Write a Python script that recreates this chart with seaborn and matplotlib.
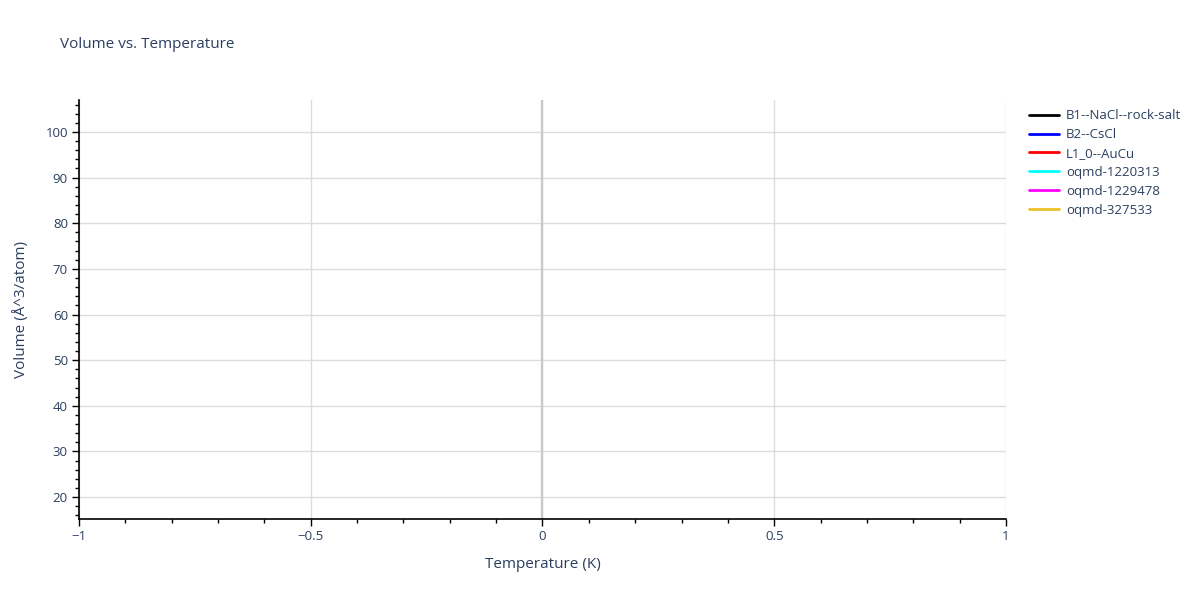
import numpy as np
import pandas as pd
import seaborn as sns
import matplotlib.pyplot as plt
from matplotlib.ticker import MultipleLocator

# series names and colours in the legend; the traces carry no points
series_names = ['B1--NaCl--rock-salt', 'B2--CsCl', 'L1_0--AuCu',
                'oqmd-1220313', 'oqmd-1229478', 'oqmd-327533']
series_colors = ['black', 'blue', 'red', 'cyan', 'magenta', '#ebc12b']
temperature = []   # K
volume = []        # A^3/atom

x_ticks = [-1, -0.5, 0, 0.5, 1]
x_tick_labels = ['\u22121', '\u22120.5', '0', '0.5', '1']
y_ticks = [20, 30, 40, 50, 60, 70, 80, 90, 100]

sns.set_theme(style='white')
plt.rcParams['font.family'] = ['Open Sans', 'DejaVu Sans']
text_color = '#2a3f5f'

fig = plt.figure(figsize=(12, 6), dpi=100)
ax = fig.add_axes([79 / 1200, 1 - 519 / 600, (1006 - 79) / 1200, (519 - 100) / 600])

for name, color in zip(series_names, series_colors):
    df = pd.DataFrame({'T': pd.Series(temperature, dtype=float),
                       'V': pd.Series(volume, dtype=float)})
    ax.plot(df['T'], df['V'], color=color, lw=2, label=name)

ax.set_xlim(-1, 1)
ax.set_ylim(15.2, 107)
ax.set_xticks(x_ticks)
ax.set_xticklabels(x_tick_labels)
ax.set_yticks(y_ticks)
ax.xaxis.set_minor_locator(MultipleLocator(0.1))
ax.yaxis.set_minor_locator(MultipleLocator(2))

ax.grid(True, which='major', color='#dcdcdc', lw=1)
ax.axvline(0, color='#c8c8c8', lw=1.6, zorder=1)
ax.set_axisbelow(True)

for s in ['top', 'right']:
    ax.spines[s].set_visible(False)
for s in ['left', 'bottom']:
    ax.spines[s].set_color('black')
    ax.spines[s].set_linewidth(1.2)

ax.tick_params(which='major', direction='out', length=5, width=1, color='black',
               labelsize=9.5, labelcolor=text_color, left=True, bottom=True, pad=3)
ax.tick_params(which='minor', direction='out', length=3, width=1, color='black',
               left=True, bottom=True)

ax.set_xlabel('Temperature (K)', fontsize=11, color=text_color, labelpad=10)
ax.set_ylabel('Volume (\u00c5^3/atom)', fontsize=11, color=text_color, labelpad=12)
fig.text(60 / 1200, 1 - 45 / 600, 'Volume vs. Temperature', fontsize=11,
         color=text_color, va='center', ha='left')

leg = ax.legend(loc='upper left', bbox_to_anchor=(1.015, 1.0), frameon=False,
                fontsize=9.5, handlelength=2.3, handletextpad=0.5,
                labelspacing=0.45, borderaxespad=0.3)
for t in leg.get_texts():
    t.set_color(text_color)

fig.savefig('out.png', dpi=100)
